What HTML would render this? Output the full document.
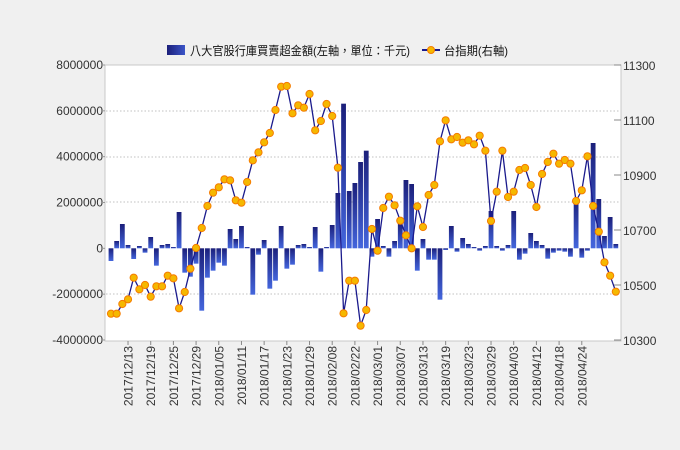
<!DOCTYPE html>
<html><head><meta charset="utf-8"><style>
html,body{margin:0;padding:0;background:#f0f0f0;}
svg{display:block;font-family:"Liberation Sans","Noto Sans CJK TC",sans-serif;}
</style></head><body>
<svg id="c" width="680" height="450" xmlns="http://www.w3.org/2000/svg">
<defs>
<linearGradient id="g" x1="0" y1="0" x2="0" y2="1"><stop offset="0" stop-color="#1b1f7a"/><stop offset="1" stop-color="#4466dd"/></linearGradient>
<linearGradient id="gl" x1="0" y1="0" x2="1" y2="0"><stop offset="0" stop-color="#1b1f7a"/><stop offset="1" stop-color="#3b55c8"/></linearGradient>
</defs>
<rect x="105" y="65" width="516" height="276" fill="#fff" stroke="#c8c8c8"/>
<g id="grid" stroke="#c0c0c0" stroke-dasharray="1.5,2"></g>
<g id="bars"></g>
<g id="line"></g>
<g id="axes" font-size="12" fill="#333"></g>
<rect x="167" y="45" width="18" height="10" fill="url(#gl)"/>
<text x="190" y="55" font-size="12" fill="#111" textLength="220" lengthAdjust="spacingAndGlyphs">八大官股行庫買賣超金額(左軸，單位：千元)</text>
<line x1="422" y1="50" x2="440" y2="50" stroke="#1a1a8c" stroke-width="2"/>
<circle cx="431" cy="50" r="3.5" fill="#f5b800" stroke="#f57c00"/>
<text x="444" y="55" font-size="12" fill="#111" textLength="64" lengthAdjust="spacingAndGlyphs">台指期(右軸)</text>
</svg>
<script>
var L=[761,761,732,718,653,688,675,710,679,679,647,655,745,696,626,564,504,438,398,382,358,361,421,428,366,301,277,247,219,150,80,78,160,136,143,102,211,183,132,168,323,760,662,662,797,750,507,572,444,410,436,482,526,565,439,501,405,375,244,181,238,231,248,241,253,227,272,483,395,272,411,395,330,324,375,441,342,306,281,311,300,311,423,391,289,438,515,607,647,695];
var B=[603,543,492,555,597,558,578,531,617,555,552,561,456,638,650,611,752,653,632,608,617,507,537,498,561,704,584,540,686,662,498,626,614,555,552,561,501,635,561,495,399,131,393,369,306,272,590,477,558,590,543,489,360,372,632,537,599,599,719,570,498,575,534,552,561,572,558,453,558,572,555,453,599,581,519,543,555,596,578,572,575,590,414,593,572,249,417,528,471,552];
var NS="http://www.w3.org/2000/svg";
function el(t,a,p,txt){var e=document.createElementNS(NS,t);for(var k in a)e.setAttribute(k,a[k]);if(txt!=null)e.textContent=txt;document.getElementById(p).appendChild(e);return e;}
var base=248.3;
function X(i){return 111+5.672*i;}
[111,157,202,294].forEach(function(y){el('line',{x1:106,x2:620,y1:y,y2:y},'grid');});
for(var i=0;i<B.length;i++){var y=B[i]/3+60;var t=Math.min(y,base),h=Math.abs(y-base);if(h<0.8)h=0.8;el('rect',{x:X(i)-2.4,y:t,width:4.8,height:h,fill:'url(#g)'},'bars');}
var pts=L.map(function(v,i){return X(i).toFixed(1)+','+(v/3+60).toFixed(1);}).join(' ');
el('polyline',{points:pts,fill:'none',stroke:'#1a1a8c','stroke-width':1.3},'line');
L.forEach(function(v,i){el('circle',{cx:X(i),cy:v/3+60,r:3.6,fill:'#f5b800',stroke:'#f57c00','stroke-width':1},'line');});
var lv=['8000000','6000000','4000000','2000000','0','-2000000','-4000000'];
lv.forEach(function(s,k){var y=65+k*45.83;el('text',{x:103,y:y+4,'text-anchor':'end'},'axes',s);el('line',{x1:102,x2:105,y1:y,y2:y,stroke:'#999'},'axes');});
for(var k=0;k<6;k++){var y=65+k*55;el('text',{x:623,y:y+5},'axes',String(11300-200*k));el('line',{x1:614,x2:621,y1:y,y2:y,stroke:'#888'},'axes');}
var labs=['2017/12/13','2017/12/19','2017/12/25','2017/12/29','2018/01/05','2018/01/11','2018/01/17','2018/01/23','2018/01/29','2018/02/08','2018/02/22','2018/03/01','2018/03/07','2018/03/13','2018/03/19','2018/03/23','2018/03/29','2018/04/03','2018/04/12','2018/04/18','2018/04/24'];
labs.forEach(function(s,k){var x=X(3+4*k);el('line',{x1:x,x2:x,y1:341,y2:345,stroke:'#888'},'axes');el('text',{x:0,y:0,'text-anchor':'end',transform:'translate('+(x+4.5)+',346) rotate(-90)'},'axes',s);});
</script>
</body></html>
